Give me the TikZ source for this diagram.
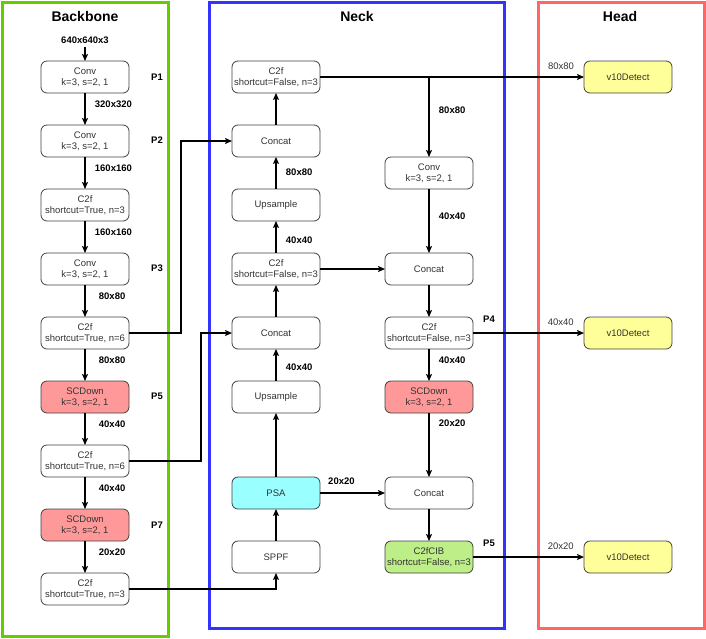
\documentclass[tikz,border=0pt]{standalone}
\usepackage{fontspec}
\setmainfont{Liberation Sans}
\usepackage{xcolor}
\usetikzlibrary{arrows.meta, positioning}

\definecolor{bbgreen}{HTML}{66CC00}
\definecolor{nkblue}{HTML}{3333FF}
\definecolor{hdred}{HTML}{FF6666}
\definecolor{sdred}{HTML}{FF9999}
\definecolor{psacyan}{HTML}{99FFFF}
\definecolor{cibgreen}{HTML}{BDEE88}
\definecolor{detyellow}{HTML}{FFFF99}

\begin{document}
\begin{tikzpicture}[
  x=1pt, y=-1pt,
  node distance=32pt and 65pt,
  blk/.style={draw=black!75, line width=0.8pt, rounded corners=6pt, fill=white, text=black!80, minimum width=88pt, minimum height=32pt, inner sep=1pt, outer sep=0pt, align=center, font=\fontsize{9.5}{11}\selectfont},
  scd/.style={blk, fill=sdred},
  psa/.style={blk, fill=psacyan},
  cib/.style={blk, fill=cibgreen},
  det/.style={blk, fill=detyellow},
  dim/.style={font=\bfseries\fontsize{9.5}{10}\selectfont},
  hdim/.style={font=\fontsize{9.5}{10}\selectfont, text=black!80},
  ttl/.style={font=\bfseries\fontsize{14}{16}\selectfont},
  frame/.style={line width=3pt},
  arr/.style={-{Stealth[length=7pt, width=6pt, inset=1.5pt]}, line width=1.2pt}
]
\useasboundingbox (0,0) rectangle (706,638);

% Panels
\draw[frame, draw=bbgreen] (2,2) rectangle (168,636);
\draw[frame, draw=nkblue] (209,2) rectangle (504,628);
\draw[frame, draw=hdred] (538,2) rectangle (704,628);
\node[ttl] (tbb) at (85,16) {Backbone};
\node[ttl] (tnk) at (357,16) {Neck};
\node[ttl] (thd) at (620,16) {Head};

% Backbone
\node[dim] (inp) at (85,40) {640x640x3};
\node[blk] (b1) at (85,77) {Conv\\k=3, s=2, 1};
\node[blk, below=of b1] (b2) {Conv\\k=3, s=2, 1};
\node[blk, below=of b2] (b3) {C2f\\shortcut=True, n=3};
\node[blk, below=of b3] (b4) {Conv\\k=3, s=2, 1};
\node[blk, below=of b4] (b5) {C2f\\shortcut=True, n=6};
\node[scd, below=of b5] (b6) {SCDown\\k=3, s=2, 1};
\node[blk, below=of b6] (b7) {C2f\\shortcut=True, n=6};
\node[scd, below=of b7] (b8) {SCDown\\k=3, s=2, 1};
\node[blk, below=of b8] (b9) {C2f\\shortcut=True, n=3};

\node[dim] (p1) at (157,77) {P1};
\node[dim] (p2) at (157,140) {P2};
\node[dim] (p3) at (157,268) {P3};
\node[dim] (p5) at (157,396) {P5};
\node[dim] (p7) at (157,525) {P7};

\draw[arr] (inp) -- (b1);
\draw[arr] (b1) -- node[dim, right=6pt, pos=0.35]{320x320} (b2);
\draw[arr] (b2) -- node[dim, right=6pt, pos=0.35]{160x160} (b3);
\draw[arr] (b3) -- node[dim, right=6pt, pos=0.35]{160x160} (b4);
\draw[arr] (b4) -- node[dim, right=10pt, pos=0.35]{80x80} (b5);
\draw[arr] (b5) -- node[dim, right=10pt, pos=0.35]{80x80} (b6);
\draw[arr] (b6) -- node[dim, right=10pt, pos=0.35]{40x40} (b7);
\draw[arr] (b7) -- node[dim, right=10pt, pos=0.35]{40x40} (b8);
\draw[arr] (b8) -- node[dim, right=10pt, pos=0.35]{20x20} (b9);

% Neck, left column
\node[blk] (sppf) at (276,557) {SPPF};
\node[psa, above=of sppf] (psa) {PSA};
\node[blk, above=64pt of psa] (up2) {Upsample};
\node[blk, above=of up2] (cat2) {Concat};
\node[blk, above=of cat2] (c2n1) {C2f\\shortcut=False, n=3};
\node[blk, above=of c2n1] (up1) {Upsample};
\node[blk, above=of up1] (cat1) {Concat};
\node[blk, above=of cat1] (c2n0) {C2f\\shortcut=False, n=3};

% Neck, right column
\node[blk, right=of c2n1] (cat3) {Concat};
\node[blk, above=64pt of cat3] (conv3) {Conv\\k=3, s=2, 1};
\node[blk, below=of cat3] (c2n2) {C2f\\shortcut=False, n=3};
\node[scd, below=of c2n2] (scd3) {SCDown\\k=3, s=2, 1};
\node[blk, below=64pt of scd3] (cat4) {Concat};
\node[cib, below=of cat4] (cib) {C2fCIB\\shortcut=False, n=3};

\node[dim] (p4) at (489,319) {P4};
\node[dim] (p5n) at (489,543) {P5};

% Head
\node[det] (d1) at (628,77) {v10Detect};
\node[det] (d2) at (628,333) {v10Detect};
\node[det] (d3) at (628,557) {v10Detect};

% Backbone to neck
\draw[arr] (b5.east) -- ++(52,0) |- (cat1);
\draw[arr] (b7.east) -- ++(72,0) |- (cat2);
\draw[arr] (b9) -| (sppf);

% Neck connectors
\draw[arr] (sppf) -- (psa);
\draw[arr] (psa) -- (up2);
\draw[arr] (up2) -- node[dim, right=6pt, pos=0.44]{40x40} (cat2);
\draw[arr] (cat2) -- (c2n1);
\draw[arr] (c2n1) -- node[dim, right=6pt, pos=0.4]{40x40} (up1);
\draw[arr] (up1) -- node[dim, right=6pt, pos=0.53]{80x80} (cat1);
\draw[arr] (cat1) -- (c2n0);
\draw[arr] (c2n1) -- (cat3);
\draw[arr] (psa) -- node[dim, above=4pt, pos=0.33]{20x20} (cat4);
\draw[arr] (c2n0.east -| conv3) -- node[dim, right=6pt, pos=0.42]{80x80} (conv3);
\draw[arr] (conv3) -- node[dim, right=6pt, pos=0.42]{40x40} (cat3);
\draw[arr] (cat3) -- (c2n2);
\draw[arr] (c2n2) -- node[dim, right=6pt, pos=0.34]{40x40} (scd3);
\draw[arr] (scd3) -- node[dim, right=6pt, pos=0.16]{20x20} (cat4);
\draw[arr] (cat4) -- (cib);

% Neck to head
\draw[arr] (c2n0) -- node[hdim, above=3pt, pos=0.913]{80x80} (d1);
\draw[arr] (c2n2) -- node[hdim, above=3pt, pos=0.79]{40x40} (d2);
\draw[arr] (cib) -- node[hdim, above=3pt, pos=0.79]{20x20} (d3);
\end{tikzpicture}
\end{document}
